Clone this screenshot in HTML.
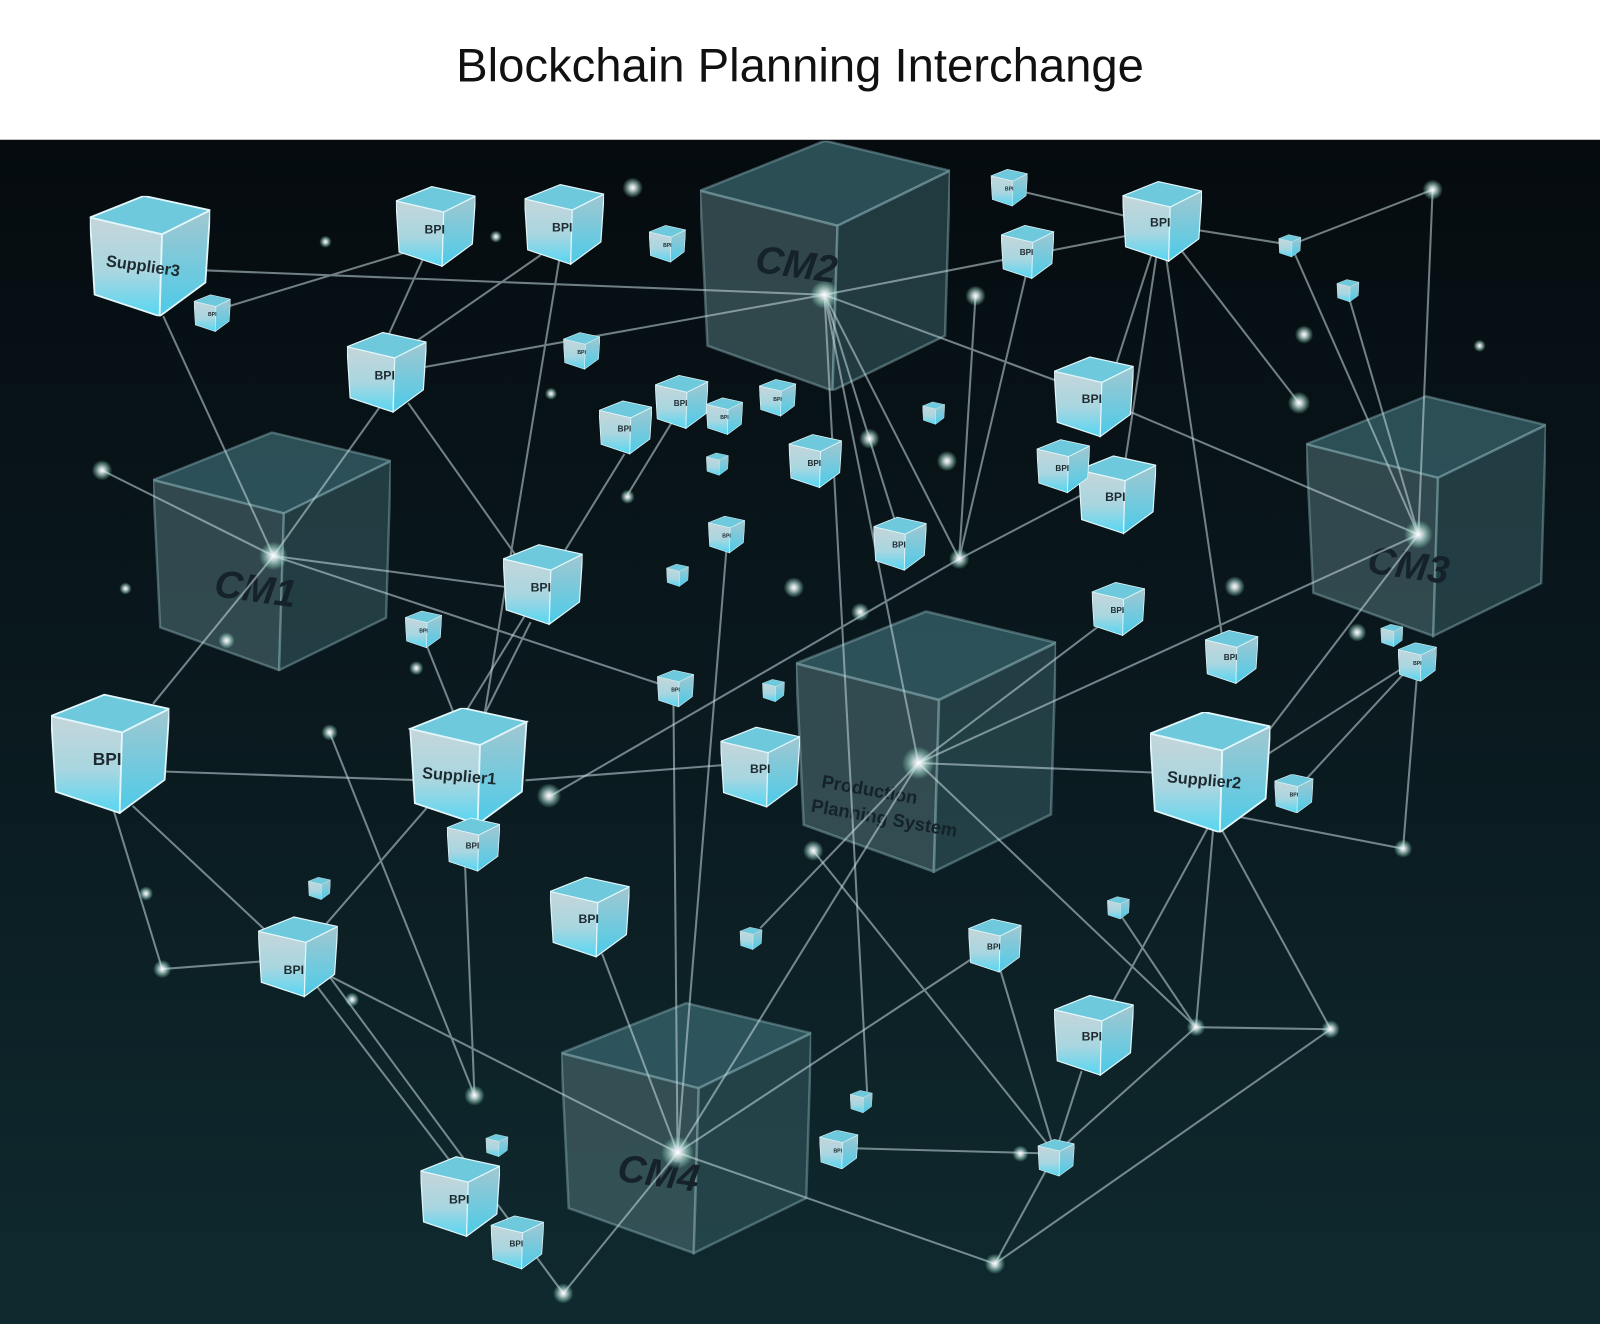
<!DOCTYPE html>
<html><head><meta charset="utf-8"><style>
html,body{margin:0;padding:0;background:#fff}
svg{display:block}
</style></head><body>
<svg width="1600" height="1324" viewBox="0 0 1568 1298" preserveAspectRatio="none" xmlns="http://www.w3.org/2000/svg">
<defs>
<linearGradient id="bg" x1="0" y1="0" x2="0" y2="1"><stop offset="0" stop-color="#050b0f"/><stop offset="0.5" stop-color="#0a1a1f"/><stop offset="1" stop-color="#0f2a2f"/></linearGradient>
<linearGradient id="gf" x1="0" y1="0" x2="0" y2="1"><stop offset="0" stop-color="#c4d6da"/><stop offset="0.55" stop-color="#a9d6e0"/><stop offset="1" stop-color="#56d6f2"/></linearGradient>
<linearGradient id="gr" x1="0" y1="0" x2="0" y2="1"><stop offset="0" stop-color="#a2c7d0"/><stop offset="1" stop-color="#4ccbe8"/></linearGradient>
<radialGradient id="glow"><stop offset="0" stop-color="#fff"/><stop offset="0.3" stop-color="#e8f4f6" stop-opacity="0.8"/><stop offset="1" stop-color="#9fd" stop-opacity="0"/></radialGradient>
<symbol id="g" viewBox="0 0 100 100">
<polygon points="0,18 45,0 100,12 60,32" fill="#6fc9dc" stroke="#e2f7fb" stroke-width="1.5"/>
<polygon points="0,18 60,32 58,100 4,82" fill="url(#gf)" stroke="#e2f7fb" stroke-width="1.5"/>
<polygon points="60,32 100,12 96,72 58,100" fill="url(#gr)" stroke="#e2f7fb" stroke-width="1.5"/>
</symbol>
<symbol id="b" viewBox="0 0 100 100">
<polygon points="0,20 50,0 100,12 55,34" fill="#3c6a72" fill-opacity="0.7" stroke="#7ea4aa" stroke-opacity="0.5"/>
<polygon points="0,20 55,34 53,100 3,82" fill="#4d6c72" fill-opacity="0.6" stroke="#7ea4aa" stroke-opacity="0.5"/>
<polygon points="55,34 100,12 98,78 53,100" fill="#2f5359" fill-opacity="0.65" stroke="#7ea4aa" stroke-opacity="0.5"/>
</symbol>
</defs>
<rect x="0" y="0" width="1568" height="137" fill="#fff"/>
<text x="447" y="80" font-family="Liberation Sans, sans-serif" font-size="46" fill="#111" textLength="674" lengthAdjust="spacingAndGlyphs">Blockchain Planning Interchange</text>
<rect x="0" y="137" width="1568" height="1161" fill="url(#bg)"/>

<use href="#b" x="686" y="138" width="245" height="245"/>
<use href="#b" x="150" y="423" width="233" height="235"/>
<use href="#b" x="1280" y="387" width="235" height="238"/>
<use href="#b" x="780" y="598" width="255" height="258"/>
<use href="#b" x="550" y="982" width="245" height="248"/>
<g font-family="Liberation Sans, sans-serif" font-weight="bold" fill="#15222a" font-style="italic">
<text x="780" y="272" font-size="38" text-anchor="middle" transform="rotate(8 780 262)">CM2</text>
<text x="250" y="590" font-size="38" text-anchor="middle" transform="rotate(8 250 580)">CM1</text>
<text x="1380" y="567" font-size="38" text-anchor="middle" transform="rotate(8 1380 557)">CM3</text>
<text x="645" y="1163" font-size="38" text-anchor="middle" transform="rotate(8 645 1153)">CM4</text>
</g>
<g font-family="Liberation Sans, sans-serif" font-weight="bold" fill="#15222a" font-size="18" transform="rotate(10 850 790)">
<text x="802" y="780">Production</text>
<text x="796" y="805">Planning System</text>
</g>

<g stroke="#c8dde2" stroke-opacity="0.55" stroke-width="2" fill="none">
<path d="M200 265L808 289M225 300L455 230M415 360L808 289M375 395L268 545M380 330L414 255M400 340L530 250M160 310L268 545M100 461L268 545M268 545L530 580M268 545L660 675M268 545L150 690M400 395L520 565M548 255L465 760M520 610L455 740M415 625L445 700"/>
<path d="M808 289L900 748M808 289L940 548M808 289L1040 375M808 289L1110 230M808 289L880 520M808 289L850 1075M1010 250L940 548M956 290L940 548M940 548L1070 480M1040 375L1390 524M940 548L540 780"/>
<path d="M1138 220L990 185M1138 220L1265 240M1138 220L1273 395M1138 220L1080 400M1138 220L1200 640M1138 220L1100 470M1265 240L1390 524M1404 186L1265 240M1404 186L1390 524M1320 285L1390 524M1390 524L900 748M1390 524L1210 760M1390 645L1210 760M1390 645L1265 780M1390 645L1375 832M1210 800L1375 832"/>
<path d="M1190 800L1172 1007M1190 800L1304 1009M1190 800L1070 1020M1172 1007L1304 1009M1304 1009L975 1239M1172 1007L1035 1130M1172 1007L1090 885M900 748L1195 760M900 748L1095 600M900 748L1172 1007M900 748L745 910M900 748L664 1130M515 765L710 750M120 755L415 765"/>
<path d="M110 790L159 950L290 940M130 790L290 940M290 940L450 1150M290 940L664 1130M290 940L420 790M323 718L465 1074M465 1074L455 830M310 940L552 1268L664 1130M664 1130L660 690M664 1130L713 525M664 1130L590 935M664 1130L975 1239M664 1130L960 935M808 1125L1034 1131M1034 1131L975 1239M1034 1131L797 834M1034 1131L1060 1050M1034 1131L980 950M455 700L612 445M615 485L670 395"/>
</g>

<g fill="url(#glow)">
<circle cx="268" cy="545" r="14"/><circle cx="808" cy="289" r="14"/><circle cx="1390" cy="524" r="14"/><circle cx="900" cy="748" r="16"/><circle cx="664" cy="1130" r="16"/>
<circle cx="940" cy="548" r="10"/><circle cx="1404" cy="186" r="10"/><circle cx="1375" cy="832" r="9"/><circle cx="1172" cy="1007" r="9"/><circle cx="1304" cy="1009" r="9"/><circle cx="975" cy="1239" r="10"/><circle cx="552" cy="1268" r="10"/><circle cx="159" cy="950" r="9"/><circle cx="100" cy="461" r="10"/><circle cx="465" cy="1074" r="10"/><circle cx="797" cy="834" r="10"/><circle cx="1273" cy="395" r="11"/><circle cx="956" cy="290" r="10"/><circle cx="620" cy="184" r="10"/><circle cx="538" cy="780" r="12"/><circle cx="1000" cy="1131" r="8"/>
<circle cx="323" cy="718" r="8"/><circle cx="852" cy="430" r="10"/><circle cx="928" cy="452" r="10"/><circle cx="778" cy="576" r="10"/><circle cx="843" cy="600" r="9"/><circle cx="1210" cy="575" r="10"/><circle cx="1278" cy="328" r="9"/><circle cx="1330" cy="620" r="9"/><circle cx="222" cy="628" r="8"/><circle cx="143" cy="876" r="7"/><circle cx="345" cy="980" r="7"/><circle cx="408" cy="655" r="7"/><circle cx="615" cy="487" r="7"/><circle cx="319" cy="237" r="6"/><circle cx="486" cy="232" r="6"/><circle cx="540" cy="386" r="6"/><circle cx="1450" cy="339" r="6"/><circle cx="123" cy="577" r="6"/>
</g>

<use href="#g" x="88" y="192" width="118" height="118"/>
<use href="#g" x="388" y="182" width="78" height="80"/>
<use href="#g" x="514" y="180" width="78" height="80"/>
<use href="#g" x="340" y="325" width="78" height="80"/>
<use href="#g" x="1100" y="177" width="78" height="80"/>
<use href="#g" x="1033" y="349" width="78" height="80"/>
<use href="#g" x="1057" y="445" width="76" height="80"/>
<use href="#g" x="493" y="533" width="78" height="80"/>
<use href="#g" x="50" y="680" width="116" height="118"/>
<use href="#g" x="400" y="694" width="118" height="114"/>
<use href="#g" x="1127" y="698" width="118" height="118"/>
<use href="#g" x="706" y="712" width="78" height="80"/>
<use href="#g" x="539" y="859" width="78" height="80"/>
<use href="#g" x="253" y="898" width="78" height="80"/>
<use href="#g" x="1033" y="975" width="78" height="80"/>
<use href="#g" x="412" y="1133" width="78" height="80"/>
<use href="#g" x="587" y="392" width="52" height="54"/>
<use href="#g" x="642" y="367" width="52" height="54"/>
<use href="#g" x="773" y="425" width="52" height="54"/>
<use href="#g" x="1016" y="430" width="52" height="54"/>
<use href="#g" x="856" y="506" width="52" height="54"/>
<use href="#g" x="1070" y="570" width="52" height="54"/>
<use href="#g" x="1181" y="617" width="52" height="54"/>
<use href="#g" x="981" y="220" width="52" height="54"/>
<use href="#g" x="438" y="800" width="52" height="56"/>
<use href="#g" x="949" y="900" width="52" height="54"/>
<use href="#g" x="481" y="1191" width="52" height="54"/>
<use href="#g" x="190" y="288" width="36" height="38"/>
<use href="#g" x="636" y="220" width="36" height="38"/>
<use href="#g" x="552" y="325" width="36" height="38"/>
<use href="#g" x="971" y="165" width="36" height="38"/>
<use href="#g" x="692" y="389" width="36" height="38"/>
<use href="#g" x="744" y="371" width="36" height="38"/>
<use href="#g" x="694" y="505" width="36" height="38"/>
<use href="#g" x="644" y="656" width="36" height="38"/>
<use href="#g" x="397" y="598" width="36" height="38"/>
<use href="#g" x="1370" y="630" width="38" height="38"/>
<use href="#g" x="1249" y="759" width="38" height="38"/>
<use href="#g" x="803" y="1108" width="38" height="38"/>
<use href="#g" x="1017" y="1116" width="36" height="38"/>
<use href="#g" x="1253" y="229" width="22" height="24"/>
<use href="#g" x="1310" y="273" width="22" height="24"/>
<use href="#g" x="904" y="393" width="22" height="24"/>
<use href="#g" x="692" y="443" width="22" height="24"/>
<use href="#g" x="653" y="552" width="22" height="24"/>
<use href="#g" x="747" y="665" width="22" height="24"/>
<use href="#g" x="302" y="859" width="22" height="24"/>
<use href="#g" x="725" y="908" width="22" height="24"/>
<use href="#g" x="1085" y="878" width="22" height="24"/>
<use href="#g" x="833" y="1068" width="22" height="24"/>
<use href="#g" x="476" y="1111" width="22" height="24"/>
<use href="#g" x="1353" y="611" width="22" height="24"/>

<g font-family="Liberation Sans, sans-serif" font-weight="bold" fill="#1d2a30" text-anchor="middle">
<text x="140" y="266" font-size="16" transform="rotate(8 140 262)">Supplier3</text>
<text x="450" y="766" font-size="16" transform="rotate(5 450 762)">Supplier1</text>
<text x="1180" y="770" font-size="16" transform="rotate(5 1180 765)">Supplier2</text>
<text x="105" y="750" font-size="17">BPI</text>
<g font-size="12">
<text x="426" y="229">BPI</text><text x="551" y="227">BPI</text><text x="377" y="372">BPI</text><text x="1137" y="222">BPI</text><text x="1070" y="395">BPI</text><text x="1093" y="491">BPI</text><text x="530" y="580">BPI</text><text x="745" y="758">BPI</text><text x="577" y="905">BPI</text><text x="288" y="955">BPI</text><text x="1070" y="1020">BPI</text><text x="450" y="1180">BPI</text>
</g>
<g font-size="8">
<text x="612" y="423">BPI</text><text x="667" y="398">BPI</text><text x="798" y="457">BPI</text><text x="1041" y="462">BPI</text><text x="881" y="537">BPI</text><text x="1095" y="601">BPI</text><text x="1206" y="647">BPI</text><text x="1006" y="250">BPI</text><text x="463" y="832">BPI</text><text x="974" y="931">BPI</text><text x="506" y="1222">BPI</text>
</g>
<g font-size="5">
<text x="208" y="310">BPI</text><text x="654" y="242">BPI</text><text x="570" y="347">BPI</text><text x="989" y="187">BPI</text><text x="710" y="411">BPI</text><text x="762" y="393">BPI</text><text x="712" y="527">BPI</text><text x="662" y="678">BPI</text><text x="415" y="620">BPI</text><text x="1389" y="652">BPI</text><text x="1268" y="781">BPI</text><text x="821" y="1130">BPI</text>
</g>
</g>
</svg>
</body></html>
